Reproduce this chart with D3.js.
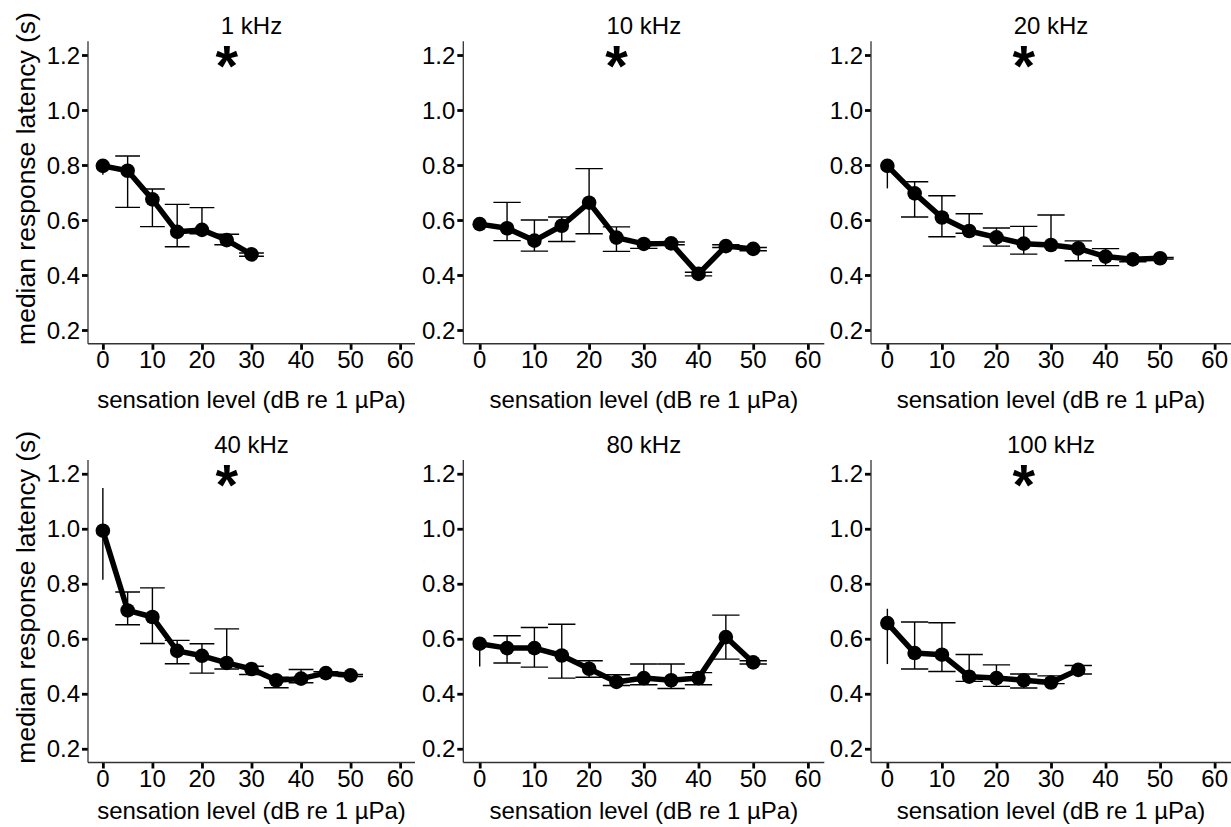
<!DOCTYPE html>
<html>
<head>
<meta charset="utf-8">
<script src="https://cdn.jsdelivr.net/npm/d3@7"></script>
<style>
  body { margin: 0; background: #ffffff; }
  svg { display: block; }
</style>
</head>
<body>
<div id="chart"></div>
<script>
// sensation levels (dB re 1 µPa)
const levels = [0, 5, 10, 15, 20, 25, 30, 35, 40, 45, 50];

const panelTitles = ["1 kHz", "10 kHz", "20 kHz", "40 kHz", "80 kHz", "100 kHz"];
const starred = [true, true, true, true, false, true];

// median response latency (s) and error bar limits per frequency
const median1k = [0.797, 0.779, 0.675, 0.557, 0.564, 0.527, 0.475];
const lower1k  = [0.765, 0.646, 0.576, 0.503, 0.550, 0.510, 0.468];
const upper1k  = [0.810, 0.833, 0.713, 0.657, 0.645, 0.548, 0.480];

const median10k = [0.585, 0.570, 0.525, 0.579, 0.663, 0.536, 0.513, 0.515, 0.404, 0.505, 0.495];
const lower10k  = [0.575, 0.525, 0.487, 0.522, 0.550, 0.486, 0.497, 0.510, 0.397, 0.500, 0.488];
const upper10k  = [0.595, 0.664, 0.600, 0.611, 0.787, 0.575, 0.520, 0.520, 0.410, 0.510, 0.500];

const median20k = [0.797, 0.697, 0.609, 0.560, 0.537, 0.514, 0.509, 0.497, 0.467, 0.457, 0.461];
const lower20k  = [0.715, 0.611, 0.539, 0.552, 0.505, 0.476, 0.505, 0.452, 0.434, 0.448, 0.458];
const upper20k  = [0.800, 0.739, 0.688, 0.623, 0.571, 0.577, 0.618, 0.524, 0.496, 0.462, 0.464];

const median40k = [0.993, 0.703, 0.679, 0.556, 0.538, 0.512, 0.490, 0.449, 0.455, 0.475, 0.467];
const lower40k  = [0.815, 0.651, 0.583, 0.509, 0.475, 0.490, 0.470, 0.422, 0.440, 0.470, 0.463];
const upper40k  = [1.148, 0.770, 0.785, 0.594, 0.582, 0.636, 0.500, 0.460, 0.488, 0.480, 0.470];

const median80k = [0.582, 0.566, 0.566, 0.539, 0.491, 0.443, 0.457, 0.449, 0.457, 0.606, 0.514];
const lower80k  = [0.499, 0.512, 0.497, 0.457, 0.460, 0.430, 0.433, 0.419, 0.433, 0.526, 0.508];
const upper80k  = [0.590, 0.611, 0.641, 0.653, 0.520, 0.469, 0.508, 0.508, 0.477, 0.686, 0.520];

const median100k = [0.657, 0.548, 0.542, 0.462, 0.457, 0.449, 0.441, 0.487];
const lower100k  = [0.508, 0.490, 0.481, 0.445, 0.427, 0.421, 0.437, 0.472];
const upper100k  = [0.709, 0.661, 0.658, 0.543, 0.505, 0.472, 0.465, 0.503];

const xTicks = [0, 10, 20, 30, 40, 50, 60];
const yTicks = [0.2, 0.4, 0.6, 0.8, 1.0, 1.2];

const xLabel = "sensation level (dB re 1 µPa)";
const yLabel = "median response latency (s)";

// build the panel table from the arrays above
const medians = [median1k, median10k, median20k, median40k, median80k, median100k];
const lowers = [lower1k, lower10k, lower20k, lower40k, lower80k, lower100k];
const uppers = [upper1k, upper10k, upper20k, upper40k, upper80k, upper100k];

const panels = panelTitles.map((title, i) => ({
    title: title,
    star: starred[i],
    points: medians[i].map((m, j) => ({ x: levels[j], y: m, lo: lowers[i][j], hi: uppers[i][j] }))
}));

// layout (pixel frame of each plotting area)
const W = 1231, H = 827;
const cols = [{ left: 88, right: 415 }, { left: 463.3, right: 824.3 }, { left: 871, right: 1231 }];
const rows = [{ top: 41.25, bottom: 343.75, labelBase: 408 }, { top: 460, bottom: 762.5, labelBase: 819 }];

const font = "'Liberation Sans', Arial, sans-serif";
const fontSize = 24;

const svg = d3.select("#chart")
    .append("svg")
    .attr("width", W)
    .attr("height", H);

function addText(g, x, y, str) {
    return g.append("text")
        .attr("x", x)
        .attr("y", y)
        .attr("font-family", font)
        .attr("font-size", fontSize + "px")
        .attr("fill", "#000000")
        .text(str);
}

panels.forEach((p, i) => {
    const col = cols[i % 3];
    const row = rows[Math.floor(i / 3)];

    const x = d3.scaleLinear()
        .domain([-3, 63])
        .range([col.left, col.right]);

    const y = d3.scaleLinear()
        .domain([0.15, 1.25])
        .range([row.bottom, row.top]);

    const g = svg.append("g").attr("class", "panel");

    // error bars (no caps at 0 dB, they fall outside the 0-60 range)
    const capHalf = 2.5;
    const bars = g.append("g").attr("class", "errorbars")
        .attr("stroke", "#000000")
        .attr("stroke-width", 1.4)
        .attr("fill", "none");

    bars.selectAll(".ebar")
        .data(p.points)
        .enter()
        .append("path")
        .attr("class", "ebar")
        .attr("d", d => {
            let s = `M${x(d.x)},${y(d.hi)}V${y(d.lo)}`;
            if (d.x - capHalf >= 0) {
                s += `M${x(d.x - capHalf)},${y(d.hi)}H${x(d.x + capHalf)}` +
                     `M${x(d.x - capHalf)},${y(d.lo)}H${x(d.x + capHalf)}`;
            }
            return s;
        });

    // line
    const line = d3.line()
        .x(d => x(d.x))
        .y(d => y(d.y));

    g.append("path")
        .datum(p.points)
        .attr("fill", "none")
        .attr("stroke", "#000000")
        .attr("stroke-width", 5.5)
        .attr("stroke-linejoin", "round")
        .attr("d", line);

    // points
    g.selectAll(".dot")
        .data(p.points)
        .enter()
        .append("circle")
        .attr("class", "dot")
        .attr("cx", d => x(d.x))
        .attr("cy", d => y(d.y))
        .attr("r", 7.3)
        .attr("fill", "#000000");

    // axes
    const xAxis = g.append("g")
        .attr("transform", `translate(0,${row.bottom})`)
        .call(d3.axisBottom(x).tickValues(xTicks).tickSize(6).tickFormat(""));

    const yAxis = g.append("g")
        .attr("transform", `translate(${col.left},0)`)
        .call(d3.axisLeft(y).tickValues(yTicks).tickSize(6).tickFormat(""));

    [xAxis, yAxis].forEach(a => {
        a.select(".domain")
            .attr("d", null);
        a.selectAll(".tick line")
            .attr("stroke", "#000000")
            .attr("stroke-width", 2.8);
    });

    // axis lines along the scale ranges
    g.append("line")
        .attr("x1", col.left).attr("x2", col.left)
        .attr("y1", row.top).attr("y2", row.bottom)
        .attr("stroke", "#333333").attr("stroke-width", 1.3);
    g.append("line")
        .attr("x1", col.left).attr("x2", col.right)
        .attr("y1", row.bottom).attr("y2", row.bottom)
        .attr("stroke", "#333333").attr("stroke-width", 1.3);

    // tick labels
    xTicks.forEach(t => {
        addText(g, x(t), row.bottom + 24, t).attr("text-anchor", "middle");
    });
    yTicks.forEach(t => {
        addText(g, col.left - 8, y(t), d3.format(".1f")(t))
            .attr("text-anchor", "end")
            .attr("dy", "0.36em");
    });

    // x axis title
    addText(g, (col.left + col.right) / 2, row.labelBase, xLabel)
        .attr("text-anchor", "middle");

    // panel title
    addText(g, (col.left + col.right) / 2, row.top - 7.5, p.title)
        .attr("text-anchor", "middle");

    // significance star
    if (p.star) {
        g.append("text")
            .attr("x", x(25))
            .attr("y", y(1.2) + 31)
            .attr("text-anchor", "middle")
            .attr("font-family", font)
            .attr("font-weight", "bold")
            .attr("font-size", "58px")
            .attr("fill", "#000000")
            .text("*");
    }

    // y axis title only in the first column
    if (i % 3 === 0) {
        const cy = (row.top + row.bottom) / 2 - 14;
        g.append("text")
            .attr("transform", `translate(35,${cy}) rotate(-90)`)
            .attr("text-anchor", "middle")
            .attr("font-family", font)
            .attr("font-size", "26.5px")
            .attr("fill", "#000000")
            .text(yLabel);
    }
});
</script>
</body>
</html>
